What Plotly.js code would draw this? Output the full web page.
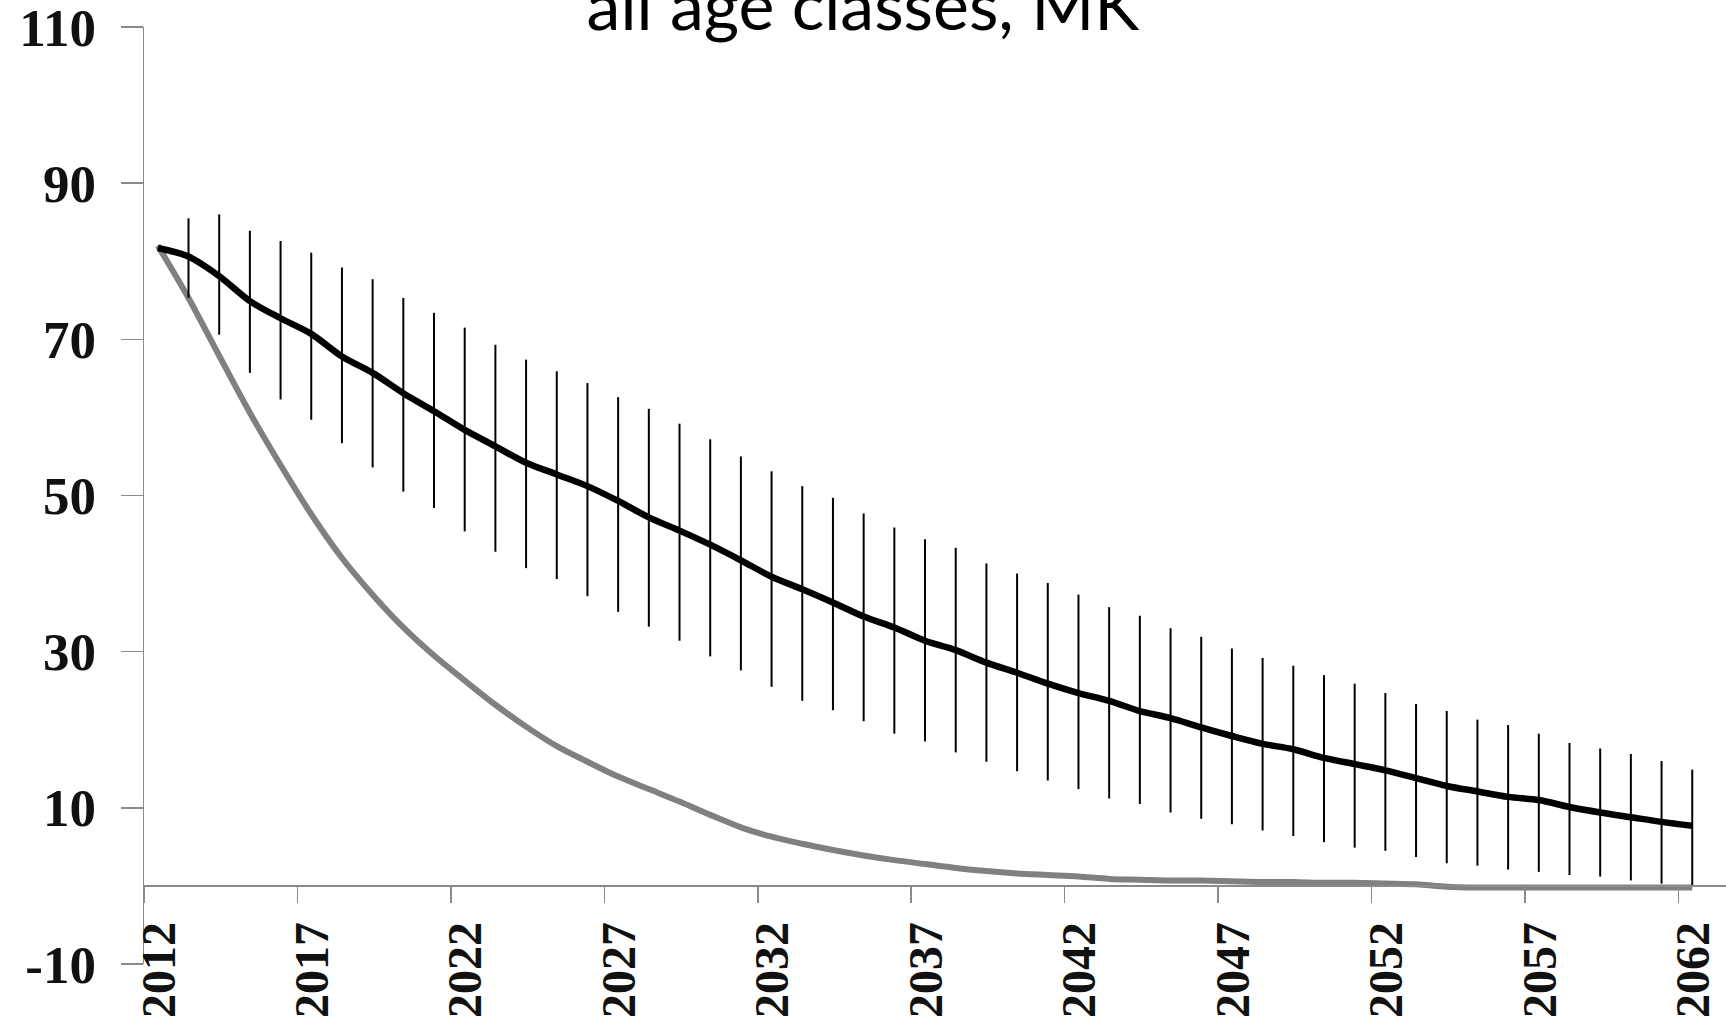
<!DOCTYPE html>
<html>
<head>
<meta charset="utf-8">
<script src="https://cdn.plot.ly/plotly-3.0.1.min.js"></script>
<style>
  html, body { margin: 0; padding: 0; background: #ffffff; }
  #chart { width: 1726px; height: 1026px; }
</style>
</head>
<body>
<div id="chart"></div>
<script>
// ---- data ----
const years = [2012,2013,2014,2015,2016,2017,2018,2019,2020,2021,2022,2023,2024,2025,2026,2027,2028,2029,2030,2031,2032,2033,2034,2035,2036,2037,2038,2039,2040,2041,2042,2043,2044,2045,2046,2047,2048,2049,2050,2051,2052,2053,2054,2055,2056,2057,2058,2059,2060,2061,2062];

// black line: mean projection
const meanValues = [81.7,80.6,78.1,74.9,72.7,70.7,67.8,65.7,63.1,60.8,58.4,56.3,54.2,52.7,51.2,49.3,47.2,45.5,43.7,41.7,39.6,38.0,36.3,34.5,33.1,31.4,30.2,28.6,27.3,25.9,24.7,23.7,22.4,21.5,20.3,19.2,18.2,17.5,16.4,15.6,14.8,13.8,12.8,12.1,11.4,11.0,10.1,9.4,8.8,8.2,7.7];

// vertical range bars around the black line (upper / lower ends); first year has none
const upperValues = [null,85.5,86.0,83.9,82.6,81.1,79.2,77.7,75.3,73.4,71.5,69.3,67.4,65.9,64.4,62.6,61.1,59.2,57.2,55.0,53.1,51.2,49.7,47.7,45.9,44.4,43.3,41.3,40.0,38.8,37.3,35.7,34.6,33.0,31.9,30.4,29.2,28.2,27.0,25.9,24.7,23.3,22.4,21.3,20.6,19.5,18.3,17.6,16.9,16.0,14.9];
const lowerValues = [null,75.3,70.6,65.7,62.3,59.7,56.7,53.6,50.5,48.4,45.4,42.8,40.7,39.3,37.1,35.1,33.2,31.4,29.4,27.6,25.5,23.7,22.5,21.1,19.5,18.5,17.1,15.9,14.7,13.5,12.4,11.2,10.5,9.4,8.6,7.9,7.1,6.4,5.6,4.9,4.5,3.7,2.9,2.6,2.1,1.8,1.4,1.2,0.7,0.3,0.0];

// grey line: second scenario
const greyValues = [82.0,75.3,67.9,60.6,53.9,47.6,42.0,37.3,33.1,29.5,26.3,23.2,20.4,17.9,15.9,14.0,12.4,10.8,9.1,7.5,6.3,5.4,4.6,3.9,3.3,2.8,2.3,1.9,1.6,1.4,1.2,0.9,0.8,0.7,0.7,0.6,0.5,0.5,0.4,0.4,0.3,0.2,-0.1,-0.2,-0.2,-0.2,-0.2,-0.2,-0.2,-0.2,-0.2];

// tick labels
const xTickLabels = ['2012','2017','2022','2027','2032','2037','2042','2047','2052','2057','2062'];
const yTickValues = [-10,10,30,50,70,90,110];
const titleText = 'all age classes, MK';

// ---- derived error arrays ----
const errPlus = meanValues.map((m, i) => upperValues[i] === null ? 0 : +(upperValues[i] - m).toFixed(2));
const errMinus = meanValues.map((m, i) => lowerValues[i] === null ? 0 : +(m - lowerValues[i]).toFixed(2));

// tick marks sit on category boundaries (half a year before the labelled year)
const tickPositions = xTickLabels.map(s => Number(s) - 0.45);

const axisGrey = '#8a8a8a';
const serifFamily = 'Liberation Serif, Times New Roman, serif';

const traces = [
  {
    type: 'scatter', mode: 'lines', name: 'grey',
    x: years, y: greyValues,
    line: { color: '#808080', width: 6, shape: 'spline', smoothing: 0.9 },
    hoverinfo: 'skip'
  },
  {
    type: 'scatter', mode: 'lines', name: 'mean',
    x: years, y: meanValues,
    line: { color: '#000000', width: 6.5, shape: 'spline', smoothing: 0.9 },
    error_y: {
      type: 'data', symmetric: false,
      array: errPlus, arrayminus: errMinus,
      color: '#000000', thickness: 2, width: 0
    },
    hoverinfo: 'skip'
  }
];

const layout = {
  width: 1726, height: 1026,
  paper_bgcolor: '#ffffff', plot_bgcolor: '#ffffff',
  showlegend: false,
  margin: { l: 144, r: 0, t: 27, b: 62, pad: 0 },
  title: {
    text: titleText,
    xref: 'container', x: 0.5, xanchor: 'center',
    yref: 'container', y: 0.994, yanchor: 'middle',
    font: { family: 'Lato, Carlito, Calibri, sans-serif', size: 68, color: '#000000' }
  },
  xaxis: {
    type: 'linear',
    range: [2011.55, 2063.1],
    anchor: 'free', position: 10 / 120,
    showgrid: false, zeroline: false,
    showline: true, linecolor: axisGrey, linewidth: 2,
    ticks: 'outside', ticklen: 16, tickwidth: 1.5, tickcolor: axisGrey,
    tickmode: 'array', tickvals: tickPositions, ticktext: xTickLabels,
    tickangle: -90, ticklabelshift: 15, ticklabelstandoff: 0,
    ticklabeloverflow: 'allow',
    tickfont: { family: serifFamily, size: 48, color: '#111111', weight: 700 },
    automargin: false
  },
  yaxis: {
    range: [-10, 110],
    showgrid: false, zeroline: false,
    showline: true, linecolor: axisGrey, linewidth: 1.5,
    ticks: 'outside', ticklen: 22, tickwidth: 1.5, tickcolor: axisGrey,
    tickmode: 'array', tickvals: yTickValues, ticktext: yTickValues.map(String),
    ticklabelstandoff: 14,
    ticklabeloverflow: 'allow',
    tickfont: { family: serifFamily, size: 53, color: '#111111', weight: 700 },
    automargin: false
  }
};

Plotly.newPlot('chart', traces, layout, { displayModeBar: false, staticPlot: true });
</script>
</body>
</html>
